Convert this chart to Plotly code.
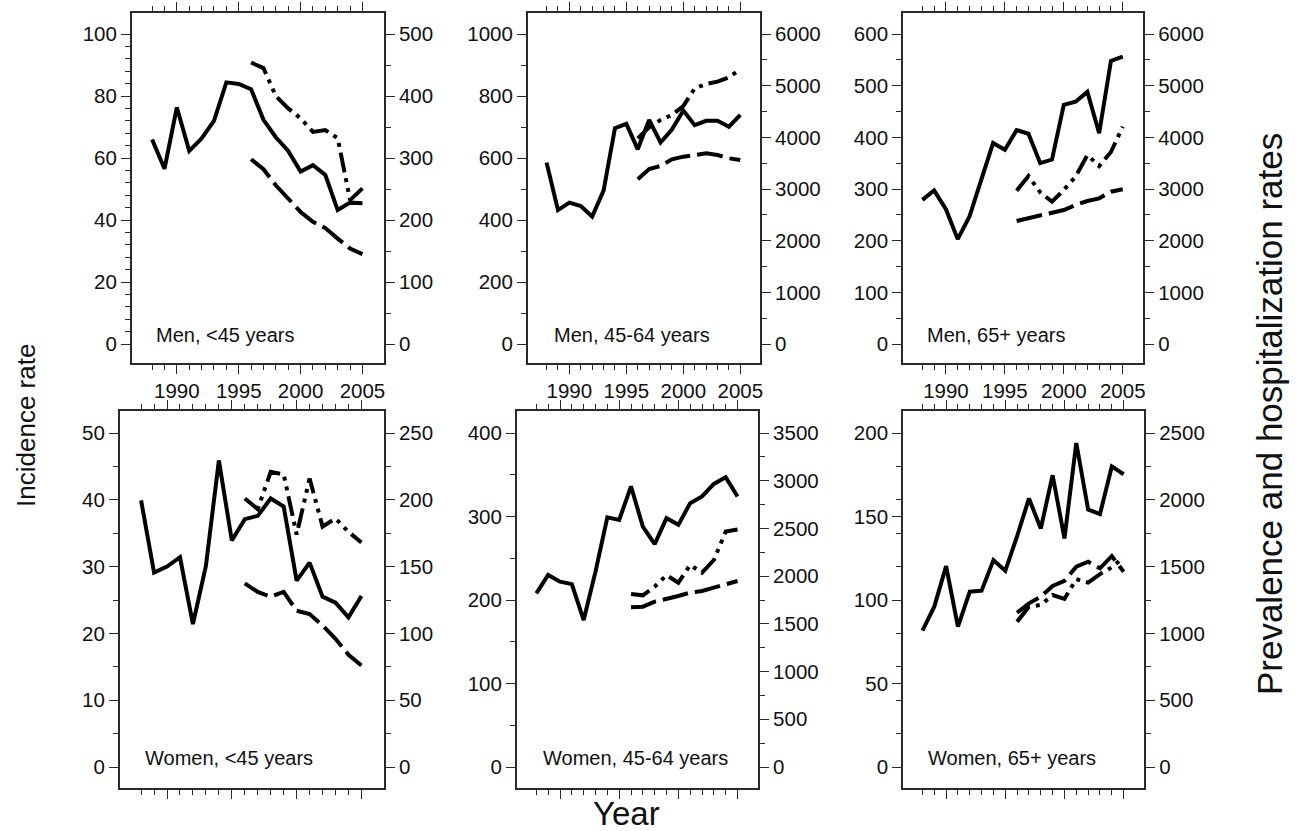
import numpy as np
import plotly.graph_objects as go

W, H = 1297, 831

# ---------------- data ----------------
years = list(range(1988, 2006))
years_ph = list(range(1996, 2006))

panel_labels = ["Men, <45 years", "Men, 45-64 years", "Men, 65+ years",
                "Women, <45 years", "Women, 45-64 years", "Women, 65+ years"]

# incidence rate (left axis, solid)
inc_men_lt45 = [66, 56.5, 76.3, 62.3, 66.3, 72, 84.4, 83.9, 82.2, 72.3, 66.7, 62.3, 55.6, 57.7, 54.5, 43.2, 45.6, 45.4]
inc_men_4564 = [585, 432, 456, 445, 411, 495, 696, 710, 628, 723, 650, 692, 753, 706, 720, 720, 701, 739]
inc_men_65 = [279, 297, 261, 203, 247, 319, 389, 376, 414, 407, 350, 357, 463, 469, 488, 408, 548, 556]
inc_wom_lt45 = [39.9, 29.1, 30.0, 31.4, 21.4, 30.1, 45.9, 33.9, 37.1, 37.6, 40.2, 39.0, 27.9, 30.6, 25.5, 24.6, 22.4, 25.6]
inc_wom_4564 = [208, 230, 222, 219, 176, 234, 299, 296, 336, 288, 267, 298, 290, 316, 324, 339, 347, 324]
inc_wom_65 = [81.7, 96, 120.3, 84.1, 105, 105.6, 123.9, 117.5, 138.2, 160.8, 142.8, 174.7, 136.9, 194, 154.2, 151.4, 180, 175.3]

# prevalence (right axis, dashed)
prev_men_lt45 = [298, 282, 256, 235, 213, 197, 187, 170, 154, 145]
prev_men_4564 = [3187, 3387, 3445, 3574, 3626, 3658, 3690, 3658, 3594, 3561]
prev_men_65 = [2381, 2432, 2477, 2529, 2594, 2690, 2768, 2819, 2948, 2994]
prev_wom_lt45 = [137.5, 131, 127.5, 131, 117, 114.5, 106, 96, 84, 76]
prev_wom_4564 = [1673, 1680, 1732, 1757, 1792, 1827, 1844, 1879, 1914, 1949]
prev_wom_65 = [1155, 1225, 1275, 1355, 1394, 1500, 1537, 1487, 1579, 1462]

# hospitalization (right axis, dash-dot-dot)
hosp_men_lt45 = [454, 445, 400, 380, 364, 342, 345, 332, 232, 251]
hosp_men_4564 = [3981, 4194, 4335, 4432, 4606, 4948, 5032, 5077, 5161, 5316]
hosp_men_65 = [2968, 3252, 2935, 2755, 2981, 3239, 3658, 3445, 3716, 4206]
hosp_wom_lt45 = [201, 193, 221, 219, 174, 216, 180, 186, 176, 168]
hosp_wom_4564 = [1813, 1799, 1890, 2010, 1931, 2118, 2036, 2169, 2467, 2489]
hosp_wom_65 = [1088, 1200, 1213, 1287, 1258, 1406, 1380, 1444, 1494, 1570]

incidence = [inc_men_lt45, inc_men_4564, inc_men_65, inc_wom_lt45, inc_wom_4564, inc_wom_65]
prevalence = [prev_men_lt45, prev_men_4564, prev_men_65, prev_wom_lt45, prev_wom_4564, prev_wom_65]
hospital = [hosp_men_lt45, hosp_men_4564, hosp_men_65, hosp_wom_lt45, hosp_wom_4564, hosp_wom_65]

# axis scales: (max, major step, minor step)
left_axes = [(100, 20, 4), (1000, 200, 100), (600, 100, 50),
             (50, 10, 5), (400, 100, 50), (200, 50, 20)]
right_axes = [(500, 100, 50), (6000, 1000, 500), (6000, 1000, 500),
              (250, 50, 25), (3500, 500, 250), (2500, 500, 250)]

x_major = [1990, 1995, 2000, 2005]

# ---------------- layout geometry (pixels) ----------------
panel_x = [(132, 385), (529, 762), (905, 1146), (120, 385), (518, 760), (905, 1147)]
rows = [dict(top=13, bottom=363, zero=344, maxpx=34),
        dict(top=411, bottom=788, zero=767, maxpx=433)]
label_pos = [(154, 335), (553, 335), (927, 335), (143, 758), (542, 758), (928, 758)]
XRANGE = [1986.35, 2006.75]

FONT = "Arial, Liberation Sans, sans-serif"
AXCOL = "#2a2a2a"
TICKFONT = dict(family=FONT, size=20.5, color="#111")

fig = go.Figure()
layout = dict(
    width=W, height=H, margin=dict(l=0, r=0, t=0, b=0),
    paper_bgcolor="white", plot_bgcolor="white", showlegend=False,
)
annotations = []


def yrange(maxv, row):
    ppu = (row["zero"] - row["maxpx"]) / maxv
    return [-(row["bottom"] - row["zero"]) / ppu, (row["zero"] - row["top"]) / ppu]


for i in range(6):
    n = i + 1
    r = rows[0] if i < 3 else rows[1]
    xs = "" if n == 1 else str(n)
    yl = "" if n == 1 else str(n)
    yr = str(n + 6)
    xd = [panel_x[i][0] / W, panel_x[i][1] / W]
    yd = [1 - r["bottom"] / H, 1 - r["top"] / H]

    lmax, lmaj, lmin = left_axes[i]
    rmax, rmaj, rmin = right_axes[i]

    layout["xaxis" + xs] = dict(
        domain=xd, anchor="y" + yl, range=XRANGE, showgrid=False, zeroline=False,
        showline=True, linecolor=AXCOL, linewidth=1.5, mirror="ticks",
        ticks="outside", ticklen=9, tickwidth=1.3, tickcolor=AXCOL,
        tickmode="array", tickvals=x_major, ticktext=[str(v) for v in x_major],
        showticklabels=(i < 3), tickfont=TICKFONT,
        minor=dict(ticks="outside", ticklen=5, tickwidth=1.1, tickcolor=AXCOL,
                   tickmode="array", tickvals=[y for y in years if y not in x_major]),
        fixedrange=True,
    )
    layout["yaxis" + yl] = dict(
        domain=yd, anchor="x" + xs, range=yrange(lmax, r), side="left",
        showgrid=False, zeroline=False, showline=True, linecolor=AXCOL, linewidth=1.5,
        ticks="outside", ticklen=9, tickwidth=1.3, tickcolor=AXCOL,
        tickmode="array", tickvals=list(np.arange(0, lmax + 1e-9, lmaj)),
        ticktext=[f"{v:g}" for v in np.arange(0, lmax + 1e-9, lmaj)],
        tickfont=TICKFONT,
        minor=dict(ticks="outside", ticklen=5, tickwidth=1.1, tickcolor=AXCOL,
                   tickmode="array", tickvals=list(np.arange(0, lmax + 1e-9, lmin))),
        fixedrange=True,
    )
    layout["yaxis" + yr] = dict(
        domain=yd, anchor="x" + xs, overlaying="y" + yl, range=yrange(rmax, r), side="right",
        showgrid=False, zeroline=False, showline=True, linecolor=AXCOL, linewidth=1.5,
        ticks="outside", ticklen=9, tickwidth=1.3, tickcolor=AXCOL,
        tickmode="array", tickvals=list(np.arange(0, rmax + 1e-9, rmaj)),
        ticktext=[f"{v:g}" for v in np.arange(0, rmax + 1e-9, rmaj)],
        tickfont=TICKFONT,
        minor=dict(ticks="outside", ticklen=5, tickwidth=1.1, tickcolor=AXCOL,
                   tickmode="array", tickvals=list(np.arange(0, rmax + 1e-9, rmin))),
        fixedrange=True,
    )

    fig.add_trace(go.Scatter(x=years, y=incidence[i], mode="lines",
                             line=dict(color="black", width=4, dash="solid"),
                             xaxis="x" + xs, yaxis="y" + yl, hoverinfo="skip"))
    fig.add_trace(go.Scatter(x=years_ph, y=prevalence[i], mode="lines",
                             line=dict(color="black", width=4, dash="26px,7px"),
                             xaxis="x" + xs, yaxis="y" + yr, hoverinfo="skip"))
    fig.add_trace(go.Scatter(x=years_ph, y=hospital[i], mode="lines",
                             line=dict(color="black", width=4, dash="20px,6px,4px,6px,4px,6px"),
                             xaxis="x" + xs, yaxis="y" + yr, hoverinfo="skip"))

    lx, ly = label_pos[i]
    annotations.append(dict(text=panel_labels[i], x=lx / W, y=1 - ly / H, xref="paper", yref="paper",
                            xanchor="left", yanchor="middle", showarrow=False,
                            font=dict(family=FONT, size=20, color="#111")))

annotations.append(dict(text="Incidence rate", x=26 / W, y=1 - 425 / H, xref="paper", yref="paper",
                        textangle=-90, showarrow=False, xanchor="center", yanchor="middle",
                        font=dict(family=FONT, size=26, color="#111")))
annotations.append(dict(text="Prevalence and hospitalization rates", x=1272 / W, y=1 - 414 / H,
                        xref="paper", yref="paper", textangle=-90, showarrow=False,
                        xanchor="center", yanchor="middle",
                        font=dict(family=FONT, size=35, color="#111")))
annotations.append(dict(text="Year", x=628 / W, y=1 - 813 / H, xref="paper", yref="paper",
                        showarrow=False, xanchor="center", yanchor="middle",
                        font=dict(family=FONT, size=33, color="#111")))

layout["annotations"] = annotations
fig.update_layout(**layout)
fig.write_html("out.html", config={"displayModeBar": False},
               post_script="document.body.style.margin='0px';document.body.style.overflow='hidden';")
